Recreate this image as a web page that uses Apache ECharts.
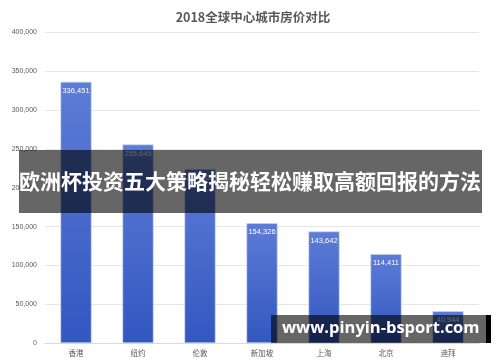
<!DOCTYPE html>
<html><head><meta charset="utf-8">
<script src="https://cdn.jsdelivr.net/npm/echarts@6/dist/echarts.min.js"></script>
<style>html,body{margin:0;padding:0;background:#fff}#c{width:500px;height:362px}</style>
</head><body><div id="c"></div>
<script>
var titleText = '2018全球中心城市房价对比';
var categories = ['香港','纽约','伦敦','新加坡','上海','北京','迪拜'];
var values = [336451, 255645, 224000, 154326, 143642, 114411, 40944];
var yTicks = [0, 50000, 100000, 150000, 200000, 250000, 300000, 350000, 400000];
var bannerText = '欧洲杯投资五大策略揭秘轻松赚取高额回报的方法';
var watermarkText = 'www.pinyin-bsport.com';

function fmt(v){ return v.toString().replace(/\B(?=(\d{3})+(?!\d))/g, ','); }

var chart = echarts.init(document.getElementById('c'));
chart.setOption({
  animation: false,
  title: { text: titleText, left: 248, top: 6, textAlign: 'center',
    textStyle: { fontSize: 12.5, fontWeight: 'bold', color: '#595959', fontFamily: 'Noto Sans CJK SC' } },
  grid: { left: 45, right: 21, top: 32.5, bottom: 19, containLabel: false },
  xAxis: { type: 'category', data: categories,
    axisLine: { lineStyle: { color: '#d9d9d9' } }, axisTick: { show: false },
    axisLabel: { color: '#595959', fontSize: 7.5, margin: 6, fontFamily: 'Noto Sans CJK SC' } },
  yAxis: { type: 'value', min: yTicks[0], max: yTicks[yTicks.length-1], interval: yTicks[1]-yTicks[0],
    axisLine: { show: false }, axisTick: { show: false },
    splitLine: { lineStyle: { color: '#e6e6e6' } },
    axisLabel: { color: '#595959', fontSize: 7, margin: 8, fontFamily: 'Liberation Sans', formatter: fmt } },
  series: [{
    type: 'bar', data: values, barWidth: '50%',
    itemStyle: { borderColor: '#c9d3ee', borderWidth: 0.6,
      color: new echarts.graphic.LinearGradient(0,0,0,1,[{offset:0,color:'#5d7cd6'},{offset:1,color:'#3257c0'}]) },
    label: { show: true, position: 'insideTop', distance: 5, color: '#ffffff', fontSize: 7.5,
      fontFamily: 'Liberation Sans', formatter: function(p){ return fmt(p.value); } }
  }],
  graphic: [
    { type: 'rect', left: 19, top: 150, shape: { width: 463, height: 63 }, style: { fill: 'rgba(0,0,0,0.6)' }, z: 100 },
    { type: 'text', left: 'center', top: 171, style: { text: bannerText, fill: '#ffffff', font: 'bold 21px "Noto Sans CJK SC"' }, z: 101 },
    { type: 'rect', left: 271, top: 315, shape: { width: 215, height: 28 }, style: { fill: 'rgba(0,0,0,0.6)' }, z: 100 },
    { type: 'rect', left: 486, top: 315, shape: { width: 5, height: 28 }, style: { fill: '#000000' }, z: 100 },
    { type: 'text', left: 282, top: 320, style: { text: watermarkText, fill: '#ffffff', font: 'bold 16.5px "Open Sans"' }, z: 101 }
  ]
});
</script></body></html>
